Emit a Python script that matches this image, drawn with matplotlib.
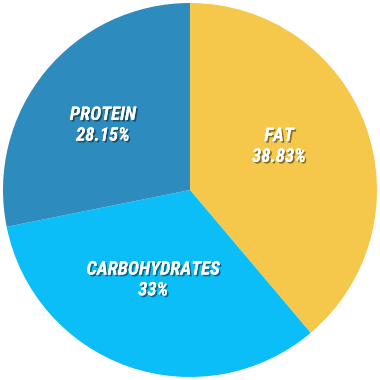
import matplotlib
matplotlib.use("Agg")
import matplotlib.pyplot as plt
import matplotlib.patheffects as pe
import numpy as np

labels = ["FAT", "CARBOHYDRATES", "PROTEIN"]
pcts = ["38.83%", "33%", "28.15%"]
values = [38.83, 33.0, 28.15]
colors = ["#F5C84B", "#0BBEF8", "#2D8BBD"]

# label placement: radius fraction and angle nudge (deg) from wedge middle
label_r = [0.53, 0.52, 0.58]
label_dtheta = [6, -3, 2.7]

fig = plt.figure(figsize=(3.8, 3.8), dpi=100)
ax = fig.add_axes([0, 0, 1, 1])
wedges, _ = ax.pie(values, colors=colors, startangle=90, counterclock=False,
                   radius=1.0, wedgeprops=dict(linewidth=0))

shadow = [pe.withSimplePatchShadow(offset=(1.2, -1.2), shadow_rgbFace="black", alpha=0.45),
          pe.Normal()]
for w, lab, p, r, dt in zip(wedges, labels, pcts, label_r, label_dtheta):
    mid = np.deg2rad((w.theta1 + w.theta2) / 2 + dt)
    ax.text(r * np.cos(mid), r * np.sin(mid), lab + "\n" + p,
            ha="center", va="center", color="white", fontsize=13.5,
            fontweight="bold", fontstyle="italic", fontstretch="condensed",
            linespacing=1.2,
            family=["Roboto Condensed", "Open Sans Condensed", "DejaVu Sans"],
            path_effects=shadow)

lim = 190 / 187
ax.set_xlim(-lim, lim)
ax.set_ylim(-lim, lim)
ax.set_aspect("equal")
ax.axis("off")
fig.savefig("out.png", dpi=100, facecolor="white")
